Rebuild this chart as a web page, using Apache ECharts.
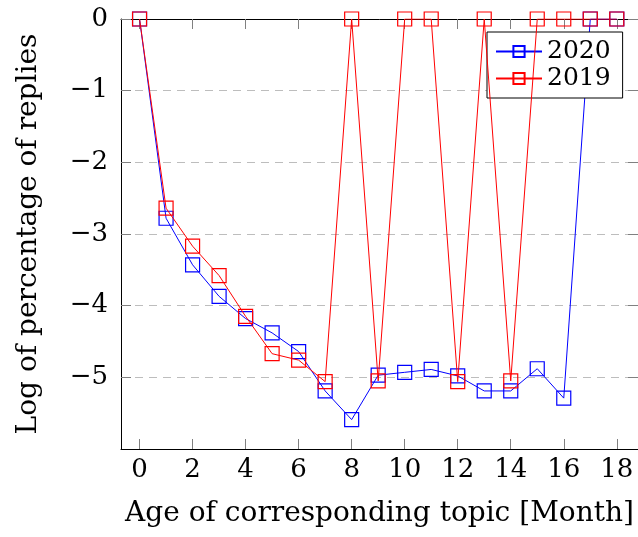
<!DOCTYPE html>
<html>
<head>
<meta charset="utf-8">
<script src="https://cdn.jsdelivr.net/npm/echarts@6/dist/echarts.min.js"></script>
<style>
  html, body { margin: 0; padding: 0; background: #fff; }
  #chart { width: 638px; height: 537px; }
</style>
</head>
<body>
<div id="chart"></div>
<script>
  // months since topic creation
  const months = [0, 1, 2, 3, 4, 5, 6, 7, 8, 9, 10, 11, 12, 13, 14, 15, 16, 17, 18]
  const replies2020 = [0, -2.78, -3.43, -3.87, -4.18, -4.38, -4.64, -5.19, -5.59, -4.97, -4.93, -4.89, -4.98, -5.19, -5.19, -4.88, -5.29, 0, 0]
  const replies2019 = [0, -2.64, -3.17, -3.58, -4.15, -4.67, -4.76, -5.06, 0, -5.05, 0, 0, -5.06, 0, -5.05, 0, 0, 0, 0]
  const xTicks = [0, 2, 4, 6, 8, 10, 12, 14, 16, 18]
  const yTicks = [0, -1, -2, -3, -4, -5]

  const font = 'DejaVu Serif'
  const pairs = (ys) => months.map((m, i) => [m, ys[i]])

  const tickStyle = { color: '#808080', width: 1 }
  const frame = { show: true, onZero: false, lineStyle: { color: '#000', width: 1 } }

  let option = {
    animation: false,
    textStyle: { fontFamily: font },
    legend: {
      orient: 'vertical',
      left: 487,
      top: 32,
      backgroundColor: '#fff',
      borderColor: '#000',
      borderWidth: 1,
      padding: [7, 12, 7, 8],
      itemWidth: 46,
      itemHeight: 14,
      itemGap: 2,
      textStyle: { fontFamily: font, fontSize: 25, color: '#000' },
      data: ['2020', '2019']
    },
    // right border of the frame sits just outside the picture
    grid: { left: 121, top: 19, width: 520, bottom: 88 },
    xAxis: [
      {
        type: 'value',
        min: -0.7,
        max: 18.8,
        position: 'bottom',
        name: 'Age of corresponding topic [Month]',
        nameLocation: 'middle',
        nameGap: 51,
        nameTextStyle: { fontFamily: font, fontSize: 28, color: '#000' },
        axisLine: frame,
        axisTick: { show: true, inside: true, length: 10, lineStyle: tickStyle, customValues: xTicks },
        axisLabel: { customValues: xTicks, fontFamily: font, fontSize: 26, color: '#000', margin: 8 },
        splitLine: { show: false }
      },
      {
        type: 'value',
        min: -0.7,
        max: 18.8,
        position: 'top',
        axisLine: frame,
        axisTick: { show: true, inside: true, length: 10, lineStyle: tickStyle, customValues: xTicks },
        axisLabel: { show: false },
        splitLine: { show: false }
      }
    ],
    yAxis: [
      {
        type: 'value',
        min: -6,
        max: 0,
        interval: 1,
        position: 'left',
        name: 'Log of percentage of replies',
        nameLocation: 'middle',
        nameGap: 78,
        nameTextStyle: { fontFamily: font, fontSize: 28, color: '#000' },
        axisLine: frame,
        axisTick: { show: true, inside: true, length: 10, lineStyle: tickStyle, customValues: yTicks },
        axisLabel: {
          customValues: yTicks,
          fontFamily: font,
          fontSize: 26,
          color: '#000',
          margin: 13,
          formatter: (v) => (v < 0 ? '\u2212' + Math.abs(v) : String(v))
        },
        splitLine: { show: true, lineStyle: { color: '#bdbdbd', width: 1, type: [8, 6] } }
      },
      {
        type: 'value',
        min: -6,
        max: 0,
        interval: 1,
        position: 'right',
        axisLine: { show: false, onZero: false },
        axisTick: { show: true, inside: true, length: 10, lineStyle: tickStyle, customValues: yTicks },
        axisLabel: { show: false },
        splitLine: { show: false }
      }
    ],
    series: [
      {
        name: '2020',
        type: 'line',
        data: pairs(replies2020),
        symbol: 'rect',
        symbolSize: 14,
        itemStyle: { color: 'transparent', borderColor: '#0000ff', borderWidth: 1.2 },
        lineStyle: { color: '#0000ff', width: 1 },
        z: 3
      },
      {
        name: '2019',
        type: 'line',
        data: pairs(replies2019),
        symbol: 'rect',
        symbolSize: 14,
        itemStyle: { color: 'transparent', borderColor: '#ff0000', borderWidth: 1.2 },
        lineStyle: { color: '#ff0000', width: 1 },
        z: 4
      }
    ]
  }

  const myChart = echarts.init(document.getElementById('chart'))
  myChart.setOption(option)
</script>
</body>
</html>
